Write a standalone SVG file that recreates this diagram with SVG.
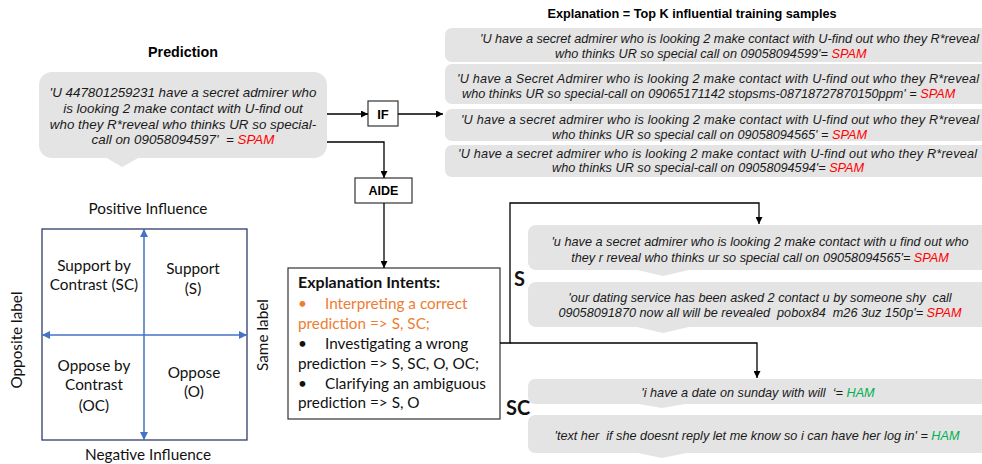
<svg xmlns="http://www.w3.org/2000/svg" width="982" height="464" viewBox="0 0 982 464">
<defs>
<marker id="ah" viewBox="0 0 10 10" refX="10" refY="5" markerWidth="7" markerHeight="7" markerUnits="userSpaceOnUse" orient="auto"><path d="M0,0 L10,5 L0,10 z" fill="#000"/></marker>
<marker id="bh" viewBox="0 0 10 10" refX="10" refY="5" markerWidth="8" markerHeight="8" markerUnits="userSpaceOnUse" orient="auto-start-reverse"><path d="M0,0 L10,5 L0,10 z" fill="#4472C4"/></marker>
<style>
.bub{fill:#e4e4e4}
.it{font-family:"Liberation Sans",Arial,sans-serif;font-style:italic;font-size:12.7px;fill:#1a1a1a}
.pr{font-family:"Liberation Sans",Arial,sans-serif;font-style:italic;font-size:13.4px;fill:#1a1a1a}
.bt{font-family:"Liberation Sans",Arial,sans-serif;font-weight:bold;fill:#000}
.cal{font-family:Lato,"Open Sans",sans-serif;font-size:15.3px;fill:#111}
.box{fill:#fff;stroke:#333;stroke-width:1.2}
.ln{fill:none;stroke:#000;stroke-width:1.3}
.red{fill:#ff0000}
.grn{fill:#00b050}
.or{fill:#ED7D31}
</style>
</defs>

<g id="prediction">
<text class="bt" x="183" y="57" font-size="14.3" text-anchor="middle">Prediction</text>
<rect class="bub" x="39" y="72" width="288" height="86" rx="13"/>
<path class="bub" d="M105,157 L122,167 L140,157 z"/>
<text class="pr" text-anchor="middle" xml:space="preserve"><tspan x="183" y="97">'U 447801259231 have a secret admirer who</tspan><tspan x="183" y="113">is looking 2 make contact with U-find out</tspan><tspan x="183" y="129">who they R*reveal who thinks UR so special-</tspan><tspan x="183" y="144">call on 09058094597'  = <tspan class="red">SPAM</tspan></tspan></text>
</g>

<g id="if">
<rect class="box" x="368" y="101" width="30" height="25"/>
<text class="bt" x="383" y="118.5" font-size="13" text-anchor="middle">IF</text>
</g>

<g id="aide">
<rect class="box" x="355" y="178" width="57" height="25"/>
<text class="bt" x="383.5" y="195" font-size="12.5" text-anchor="middle">AIDE</text>
</g>

<g id="explanation">
<text class="bt" x="692" y="18" font-size="12.7" text-anchor="middle">Explanation = Top K influential training samples</text>
<rect class="bub" x="445" y="28" width="560" height="34" rx="7"/>
<rect class="bub" x="445" y="64" width="560" height="40" rx="7"/>
<rect class="bub" x="445" y="109" width="560" height="32" rx="7"/>
<rect class="bub" x="445" y="145" width="560" height="32" rx="7"/>
<text class="it" xml:space="preserve"><tspan x="480" y="42.5" textLength="499" lengthAdjust="spacing">'U have a secret admirer who is looking 2 make contact with U-find out who they R*reveal</tspan><tspan x="555" y="57.5">who thinks UR so special call on 09058094599'= <tspan class="red">SPAM</tspan></tspan></text>
<text class="it" xml:space="preserve"><tspan x="457" y="83" textLength="522" lengthAdjust="spacing">'U have a Secret Admirer who is looking 2 make contact with U-find out who they R*reveal</tspan><tspan x="462" y="98">who thinks UR so special-call on 09065171142 stopsms-08718727870150ppm' = <tspan class="red">SPAM</tspan></tspan></text>
<text class="it" xml:space="preserve"><tspan x="461" y="123.5" textLength="518" lengthAdjust="spacing">'U have a secret admirer who is looking 2 make contact with U-find out who they R*reveal</tspan><tspan x="552" y="138.5">who thinks UR so special call on 09058094565' = <tspan class="red">SPAM</tspan></tspan></text>
<text class="it" xml:space="preserve"><tspan x="458" y="157.5" textLength="519" lengthAdjust="spacing">'U have a secret admirer who is looking 2 make contact with U-find out who they R*reveal</tspan><tspan x="552" y="172">who thinks UR so special-call on 09058094594'= <tspan class="red">SPAM</tspan></tspan></text>
</g>

<g id="quadrant">
<text class="cal" x="148" y="214" text-anchor="middle">Positive Influence</text>
<text class="cal" x="148" y="460" text-anchor="middle">Negative Influence</text>
<text class="cal" transform="translate(22,340) rotate(-90)" text-anchor="middle">Opposite label</text>
<text class="cal" transform="translate(268,335) rotate(-90)" text-anchor="middle">Same label</text>
<rect x="42" y="229" width="205" height="211" fill="none" stroke="#2F3E6B" stroke-width="1.3"/>
<line x1="144" y1="440" x2="144" y2="229" stroke="#4472C4" stroke-width="1.5" marker-start="url(#bh)" marker-end="url(#bh)"/>
<line x1="42" y1="335" x2="247" y2="335" stroke="#4472C4" stroke-width="1.5" marker-start="url(#bh)" marker-end="url(#bh)"/>
<text class="cal" text-anchor="middle"><tspan x="94" y="271">Support by</tspan><tspan x="94" y="290">Contrast (SC)</tspan></text>
<text class="cal" text-anchor="middle"><tspan x="193" y="274">Support</tspan><tspan x="193" y="294">(S)</tspan></text>
<text class="cal" text-anchor="middle"><tspan x="94" y="371">Oppose by</tspan><tspan x="94" y="390">Contrast</tspan><tspan x="94" y="411">(OC)</tspan></text>
<text class="cal" text-anchor="middle"><tspan x="194" y="378">Oppose</tspan><tspan x="194" y="397">(O)</tspan></text>
</g>

<g id="intents">
<rect class="box" x="288" y="268" width="212" height="151"/>
<text class="cal" x="298" y="288" style="font-weight:bold;font-size:16px">Explanation Intents:</text>
<text class="cal or" x="298" y="309">•</text>
<text class="cal or" x="325" y="309">Interpreting a correct</text>
<text class="cal or" x="298" y="329">prediction =&gt; S, SC;</text>
<text class="cal" x="298" y="349">•</text>
<text class="cal" x="325" y="349">Investigating a wrong</text>
<text class="cal" x="298" y="369">prediction =&gt; S, SC, O, OC;</text>
<text class="cal" x="298" y="389">•</text>
<text class="cal" x="325" y="389">Clarifying an ambiguous</text>
<text class="cal" x="298" y="408">prediction =&gt; S, O</text>
</g>

<g id="support">
<text class="cal" x="514" y="286" style="font-weight:bold;font-size:20px">S</text>
<rect class="bub" x="528" y="225" width="480" height="45" rx="8"/>
<path class="bub" d="M633,269 L663,276 L693,269 z"/>
<rect class="bub" x="528" y="282" width="480" height="45" rx="8"/>
<path class="bub" d="M633,326 L663,333 L693,326 z"/>
<text class="it" text-anchor="middle" xml:space="preserve"><tspan x="760" y="245.5">'u have a secret admirer who is looking 2 make contact with u find out who</tspan><tspan x="760" y="261.5">they r reveal who thinks ur so special call on 09058094565'= <tspan class="red">SPAM</tspan></tspan></text>
<text class="it" text-anchor="middle" xml:space="preserve"><tspan x="760" y="301.5">'our dating service has been asked 2 contact u by someone shy  call</tspan><tspan x="760" y="316.5">09058091870 now all will be revealed  pobox84  m26 3uz 150p'= <tspan class="red">SPAM</tspan></tspan></text>
</g>

<g id="contrast">
<text class="cal" x="506" y="415" style="font-weight:bold;font-size:20px">SC</text>
<rect class="bub" x="528" y="379" width="480" height="25" rx="7"/>
<path class="bub" d="M633,403 L662,408 L691,403 z"/>
<rect class="bub" x="528" y="415" width="480" height="38" rx="7"/>
<path class="bub" d="M633,452 L662,458 L691,452 z"/>
<text class="it" x="758" y="396.5" text-anchor="middle" xml:space="preserve">'i have a date on sunday with will  ‘= <tspan class="grn">HAM</tspan></text>
<text class="it" x="757" y="439.5" text-anchor="middle" xml:space="preserve">'text her  if she doesnt reply let me know so i can have her log in' = <tspan class="grn">HAM</tspan></text>
</g>

<g id="connectors">
<path class="ln" d="M327,114 H368" marker-end="url(#ah)"/>
<path class="ln" d="M398,114 H443" marker-end="url(#ah)"/>
<path class="ln" d="M327,142 H384 V178" marker-end="url(#ah)"/>
<path class="ln" d="M384,203 V268" marker-end="url(#ah)"/>
<path class="ln" d="M500,343 H510 V203 H759 V224" marker-end="url(#ah)"/>
<path class="ln" d="M510,343 H757 V378" marker-end="url(#ah)"/>
</g>
</svg>
